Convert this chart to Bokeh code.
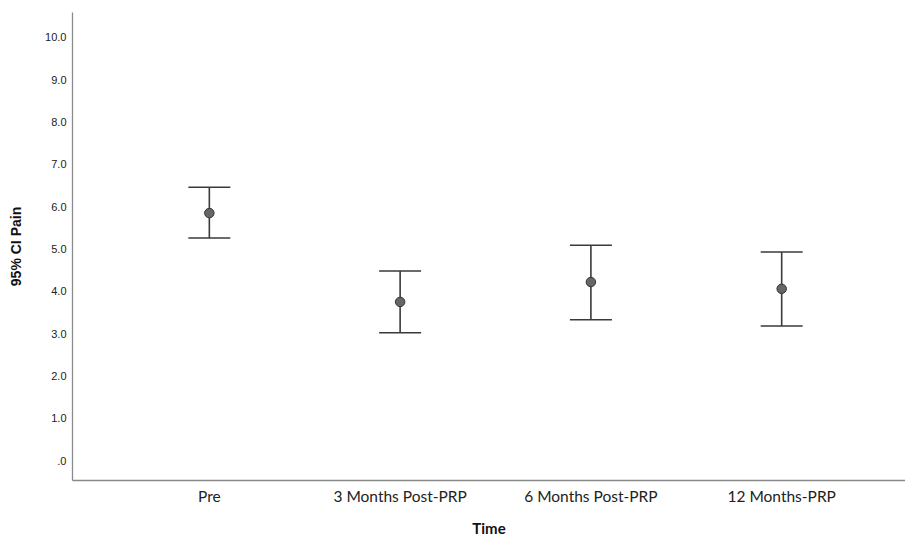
from bokeh.plotting import figure
from bokeh.models import Range1d, FixedTicker, Whisker, TeeHead, ColumnDataSource
from bokeh.embed import file_html
from bokeh.resources import INLINE

categories = ["Pre", "3 Months Post-PRP", "6 Months Post-PRP", "12 Months-PRP"]
means = [5.85, 3.75, 4.22, 4.06]
upper = [6.46, 4.48, 5.09, 4.93]
lower = [5.26, 3.02, 3.33, 3.18]
y_ticks = [0, 1, 2, 3, 4, 5, 6, 7, 8, 9, 10]
y_tick_labels = [".0", "1.0", "2.0", "3.0", "4.0", "5.0", "6.0", "7.0", "8.0", "9.0", "10.0"]

xpos = list(range(1, len(categories) + 1))
src = ColumnDataSource(dict(x=xpos, mean=means, upper=upper, lower=lower))

p = figure(width=905, height=539, output_backend="svg", toolbar_location=None,
           x_range=Range1d(0.2827, 4.649), y_range=Range1d(-0.47, 10.59),
           min_border_left=72, min_border_right=0, min_border_top=12, min_border_bottom=58)
p.outline_line_color = None
p.xgrid.visible = False
p.ygrid.visible = False
p.background_fill_color = "white"
p.border_fill_color = "white"

w = Whisker(source=src, base="x", upper="upper", lower="lower",
            line_color="#3a3a3a", line_width=1.6,
            upper_head=TeeHead(size=42, line_color="#3a3a3a", line_width=1.6),
            lower_head=TeeHead(size=42, line_color="#3a3a3a", line_width=1.6))
p.add_layout(w)
p.scatter("x", "mean", source=src, size=9.5, fill_color="#666666", line_color="#333333", line_width=1)

# axes
p.yaxis.ticker = FixedTicker(ticks=y_ticks)
p.yaxis.major_label_overrides = {t: l for t, l in zip(y_ticks, y_tick_labels)}
p.xaxis.ticker = FixedTicker(ticks=xpos)
p.xaxis.major_label_overrides = {t: l for t, l in zip(xpos, categories)}

for ax in (p.xaxis[0], p.yaxis[0]):
    ax.axis_line_color = "#8a8a8a"
    ax.axis_line_width = 1.3
    ax.major_tick_line_color = None
    ax.minor_tick_line_color = None
    ax.major_tick_out = 0
    ax.major_tick_in = 0
    ax.minor_tick_out = 0
    ax.minor_tick_in = 0

p.yaxis.major_label_text_font = "Liberation Sans"
p.yaxis.major_label_text_font_size = "11px"
p.yaxis.major_label_text_color = "#222222"
p.yaxis.major_label_standoff = 6
p.yaxis.axis_label = "95% CI Pain"
p.yaxis.axis_label_text_font = "Liberation Sans"
p.yaxis.axis_label_text_font_style = "bold"
p.yaxis.axis_label_text_font_size = "14px"
p.yaxis.axis_label_text_color = "#111111"
p.yaxis.axis_label_standoff = 18

p.xaxis.major_label_text_font = "Lato"
p.xaxis.major_label_text_font_size = "15.5px"
p.xaxis.major_label_text_color = "#222222"
p.xaxis.major_label_standoff = 6
p.xaxis.axis_label = "Time"
p.xaxis.axis_label_text_font = "Lato"
p.xaxis.axis_label_text_font_style = "bold"
p.xaxis.axis_label_text_font_size = "15px"
p.xaxis.axis_label_text_color = "#111111"
p.xaxis.axis_label_standoff = 11

open("out.html", "w").write(file_html(p, INLINE))
